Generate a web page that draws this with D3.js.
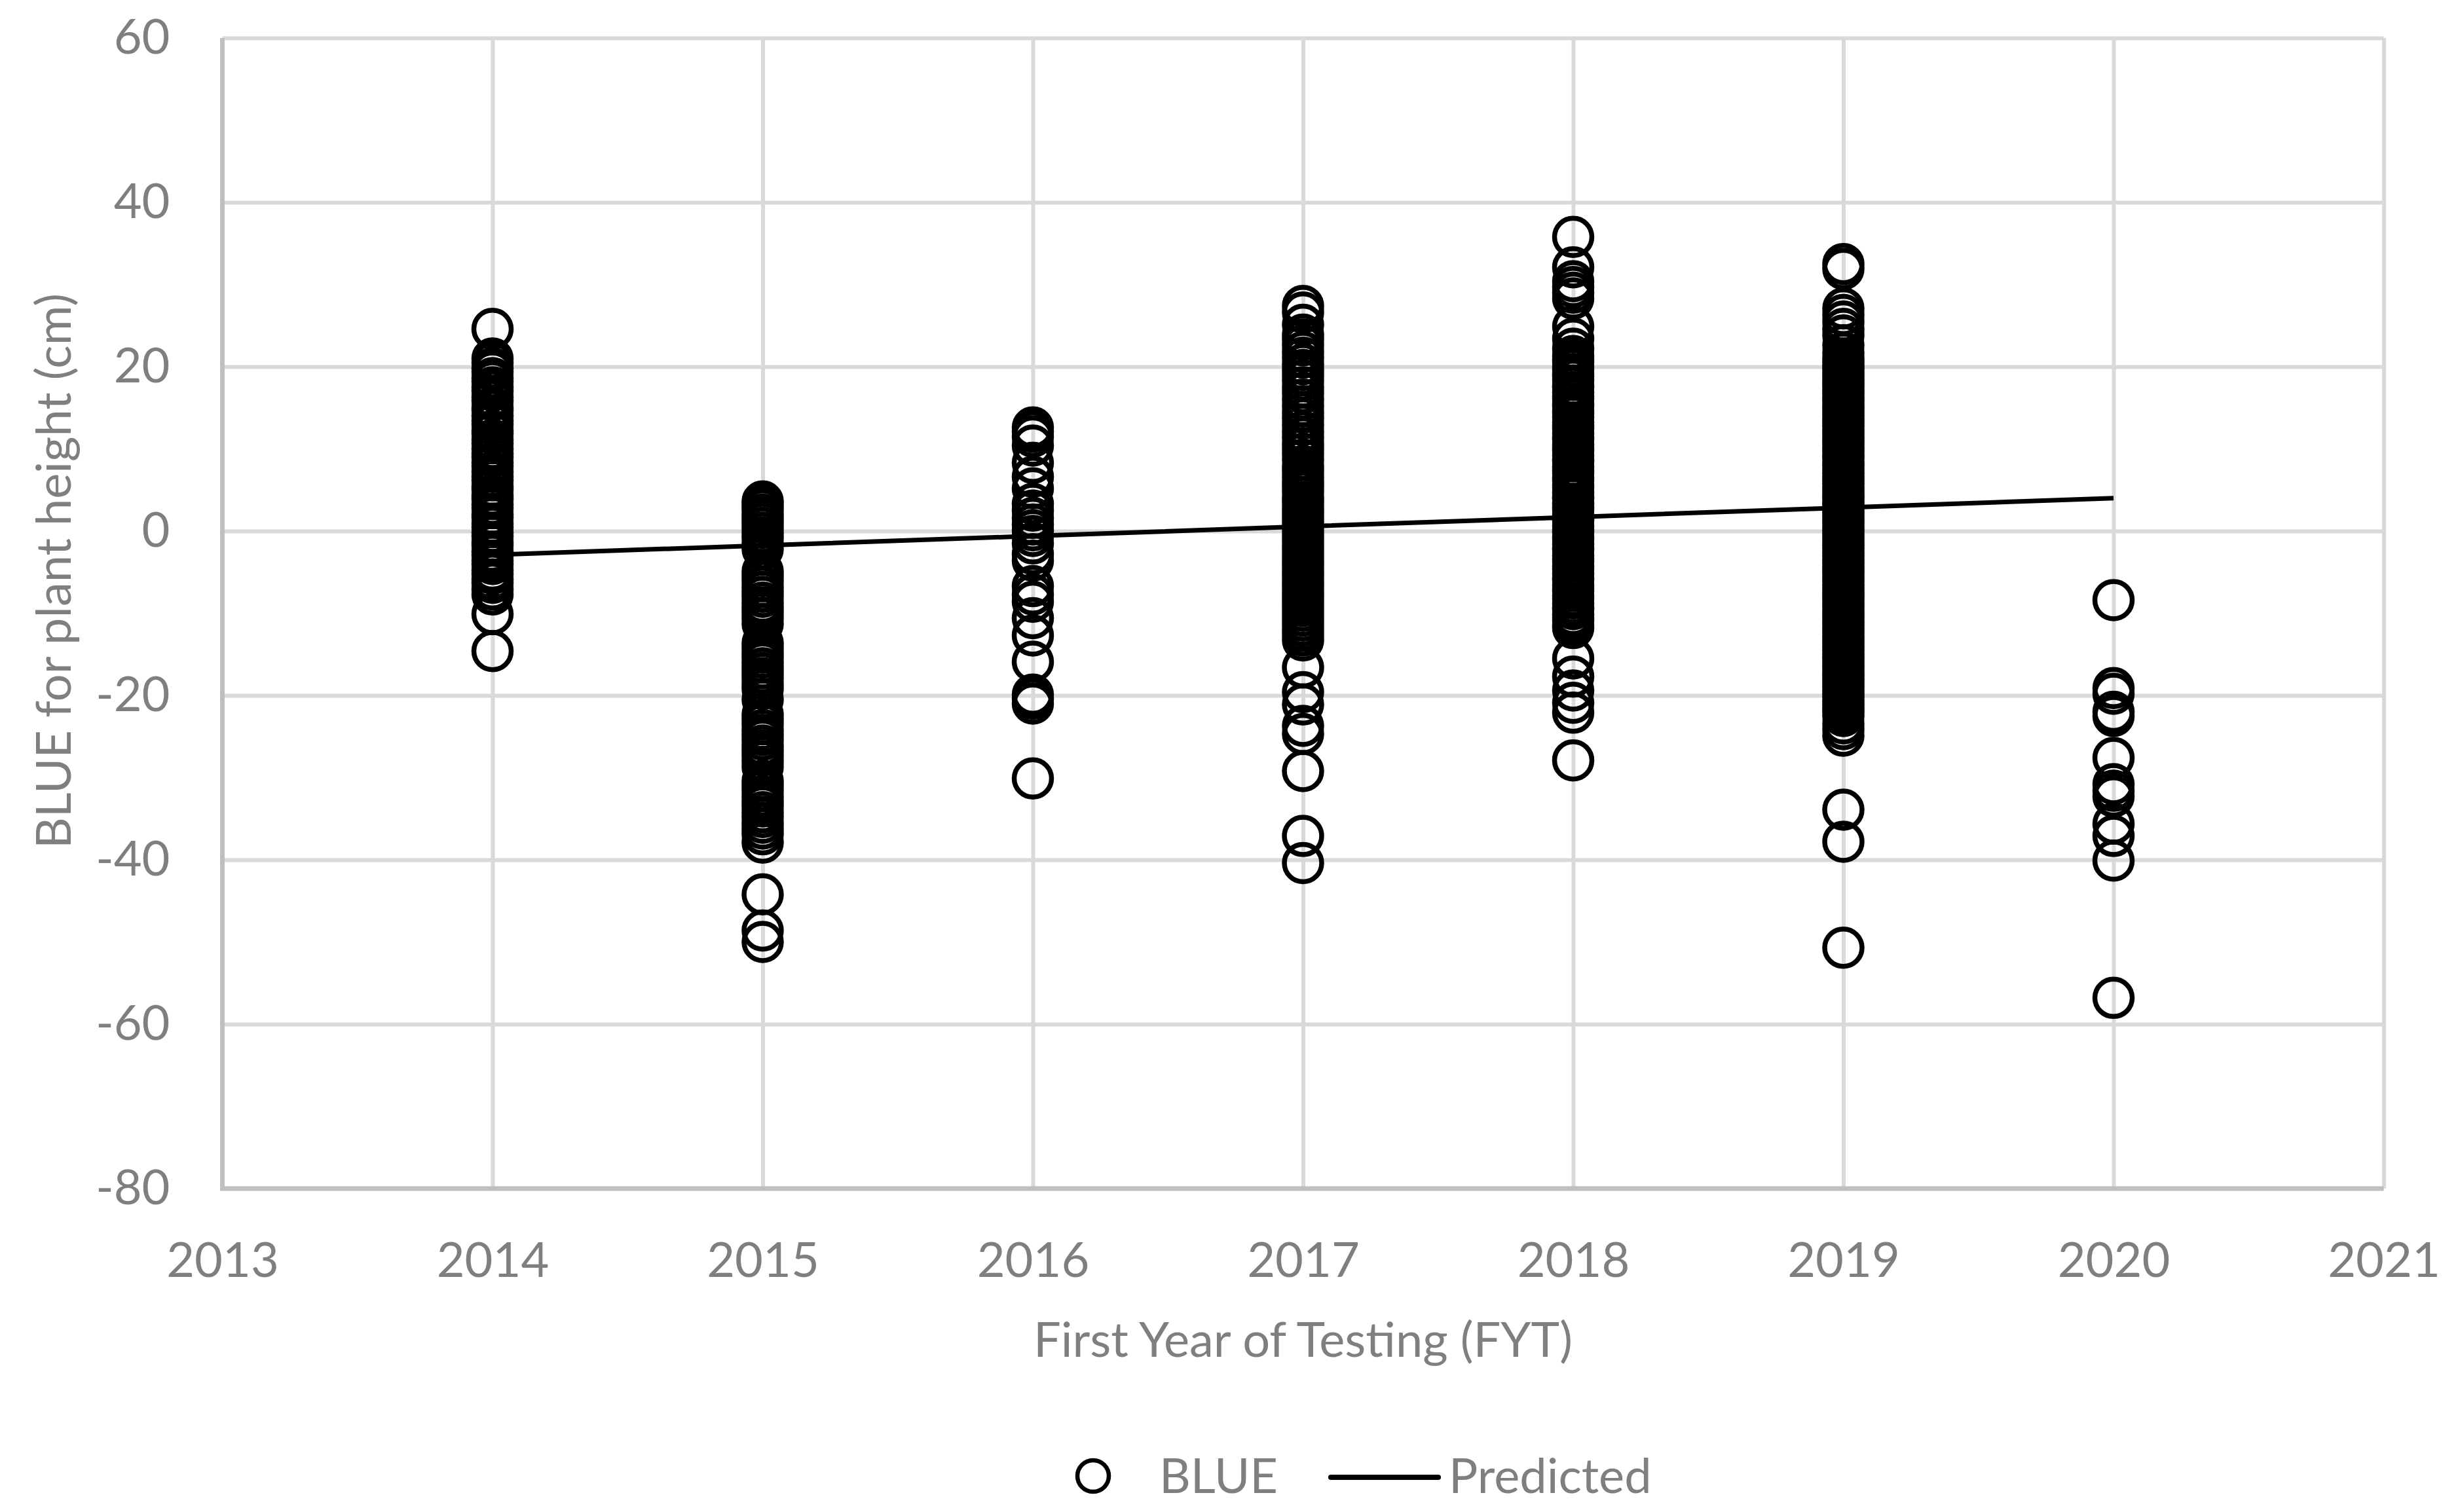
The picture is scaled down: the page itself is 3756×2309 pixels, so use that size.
<!DOCTYPE html>
<html>
<head>
<meta charset="utf-8">
<script src="https://cdn.jsdelivr.net/npm/d3@7"></script>
<style>
  html, body { margin: 0; padding: 0; background: #fff; }
  svg { display: block; }
</style>
</head>
<body>
<svg id="chart"></svg>
<script>
// ---- data ----
const xTicks = [2013, 2014, 2015, 2016, 2017, 2018, 2019, 2020, 2021];
const yTicks = [60, 40, 20, 0, -20, -40, -60, -80];

const years = [2014, 2015, 2016, 2017, 2018, 2019, 2020];

const blue2014 = [24.6, 21.0, 20.5, 19.8, 19.4, 18.6, 18.2, 17.5, 17.1, 16.3, 15.9, 15.0, 14.7, 14.0, 13.4, 13.0, 12.2, 11.9, 11.1, 10.7,
  10.0, 9.4, 9.0, 8.3, 7.9, 7.2, 6.6, 6.2, 5.4, 5.1, 4.3, 3.9, 3.2, 2.8, 2.0, 1.7, 0.9, 0.5, -0.2, -0.6, -1.4, -1.7, -2.5, -2.9,
  -3.6, -4.0, -4.8, -5.2, -5.9, -6.3, -7.1, -7.7, -10.1, -14.6];

const blue2015 = [3.6, 3.1, 2.6, 2.0, 1.5, 1.0, 0.4, -0.2, -0.8, -1.5, -2.2, -4.9, -5.5, -6.1, -6.8, -7.4, -8.0, -8.7, -9.3, -9.9,
  -10.6, -11.3, -13.6, -14.2, -14.8, -15.4, -16.0, -16.7, -17.3, -17.9, -18.6, -19.2, -20.5, -22.3, -22.9, -23.5, -24.2, -24.8,
  -25.4, -26.1, -26.7, -27.3, -28.0, -28.7, -30.4, -31.0, -31.6, -32.3, -32.9, -33.5, -34.2, -34.8, -35.5, -36.2, -36.9, -37.9,
  -44.2, -48.6, -50.0];

const blue2016 = [12.6, 12.1, 11.5, 10.4, 8.3, 6.6, 5.2, 3.3, 2.5, 1.6, 0.8, 0.1, -0.6, -1.5, -2.8, -3.6, -6.7, -7.7, -8.6,
  -10.6, -12.7, -15.9, -19.9, -20.4, -21.0, -30.1];

const blue2017 = [27.4, 26.6, 25.1, 23.9, 23.3, 22.6, 21.8, 21.1, 20.3, 19.6, 19.0, 18.3, 17.5, 16.8, 16.0, 15.2, 14.4, 13.7,
  12.9, 12.1, 11.4, 10.7, 10.1, 9.4, 8.7, 7.9, 7.3, 6.6, 6.0, 5.4, 4.8, 4.1, 3.5, 2.9, 2.3, 1.7, 1.1, 0.5, -0.1, -0.7, -1.3,
  -1.9, -2.5, -3.1, -3.7, -4.3, -4.9, -5.5, -6.1, -6.7, -7.3, -7.9, -8.5, -9.1, -9.7, -10.3, -10.9, -11.5, -12.1, -12.7, -13.3,
  -16.6, -19.6, -21.1, -23.7, -24.7, -29.2, -37.1, -40.4];

const blue2018 = [35.8, 32.1, 30.4, 29.7, 29.0, 28.3, 24.9, 23.4, 22.2,
  21.3, 20.9, 20.6, 20.0, 19.7, 19.1, 18.8, 18.4, 17.7, 17.5, 16.9, 16.4, 16.1, 15.5, 15.2, 14.6, 14.3, 13.9, 13.2, 12.8, 12.5,
  11.9, 11.4, 11.2, 10.5, 10.1, 9.8, 9.2, 8.7, 8.5, 7.8, 7.4, 7.1, 6.5, 6.2, 5.6, 5.3, 4.7, 4.2, 4.0, 3.3, 2.9, 2.6, 2.0, 1.5,
  1.3, 0.6, 0.2, -0.1, -0.7, -1.0, -1.6, -2.1, -2.3, -3.0, -3.4, -3.7, -4.3, -4.6, -5.2, -5.7, -5.9, -6.6, -7.0, -7.3, -7.9,
  -8.2, -8.8, -9.3, -9.5, -10.2, -10.6, -10.9, -11.5, -11.8,
  -15.5, -17.7, -19.4, -20.9, -22.1, -27.9];

const blue2019 = [32.5, 31.9, 27.1, 26.3, 25.5, 24.6, 23.8, 22.6, 21.7,
  21.0, 20.6, 20.1, 19.8, 19.3, 18.9, 18.4, 18.0, 17.6, 17.1, 16.7, 16.2, 15.9, 15.3, 15.0, 14.5, 14.1, 13.6, 13.2, 12.8, 12.3,
  11.9, 11.4, 11.0, 10.6, 10.1, 9.7, 9.2, 8.9, 8.3, 8.0, 7.5, 7.1, 6.6, 6.2, 5.8, 5.3, 4.9, 4.4, 4.1, 3.5, 3.2, 2.7, 2.3, 1.8,
  1.4, 1.0, 0.5, 0.1, -0.4, -0.8, -1.3, -1.7, -2.1, -2.6, -3.0, -3.5, -3.9, -4.4, -4.8, -5.2, -5.7, -6.1, -6.6, -7.0, -7.5,
  -7.9, -8.3, -8.8, -9.2, -9.7, -10.1, -10.5, -11.0, -11.4, -11.9, -12.3, -12.8, -13.2, -13.6, -14.1, -14.5, -15.0, -15.4,
  -15.8, -16.3, -16.7, -17.2, -17.6, -18.0, -18.5, -18.9, -19.4, -19.8, -20.2, -20.7, -21.1, -21.6, -22.0, -22.5,
  -23.4, -24.1, -24.9, -33.9, -37.8, -50.7];

const blue2020 = [-8.4, -19.1, -19.8, -22.0, -22.5, -27.6, -30.8, -31.6, -32.3, -35.6, -37.1, -40.1, -56.8];

const blueByYear = [blue2014, blue2015, blue2016, blue2017, blue2018, blue2019, blue2020];

// fitted trend, one value per year
const predicted = [-2.9, -1.75, -0.6, 0.55, 1.7, 2.85, 4.0];

// ---- layout ----
const width = 3756, height = 2309;
const margin = { left: 339.5, right: 116.5, top: 58, bottom: 494 };
const plotW = width - margin.left - margin.right;
const plotH = height - margin.top - margin.bottom;

const FONT = 'Lato, "Open Sans", sans-serif';
const TEXT_COLOR = '#7f7f7f';
const GRID_COLOR = '#d9d9d9';
const AXIS_COLOR = '#bfbfbf';

const svg = d3.select('#chart')
  .attr('width', width)
  .attr('height', height)
  .style('font-family', FONT);

const x = d3.scaleLinear().domain([2013, 2021]).range([margin.left, margin.left + plotW]);
const y = d3.scaleLinear().domain([-80, 60]).range([margin.top + plotH, margin.top]);

// plain hyphen for negatives, like the original
const fmt = d => String(d);

// gridlines + tick labels via axes
const yAxis = svg.append('g')
  .attr('transform', `translate(${margin.left},0)`)
  .call(d3.axisLeft(y).tickValues(yTicks).tickSize(-plotW).tickPadding(80).tickFormat(fmt));
yAxis.select('.domain').remove();
yAxis.selectAll('line').attr('stroke', GRID_COLOR).attr('stroke-width', 6);
yAxis.selectAll('text').attr('fill', TEXT_COLOR).style('font-size', '74px').style('font-family', FONT);

const xAxis = svg.append('g')
  .attr('transform', `translate(0,${margin.top + plotH})`)
  .call(d3.axisBottom(x).tickValues(xTicks).tickSize(-plotH).tickPadding(82).tickFormat(fmt));
xAxis.select('.domain').remove();
xAxis.selectAll('line').attr('stroke', GRID_COLOR).attr('stroke-width', 6);
xAxis.selectAll('text').attr('fill', TEXT_COLOR).style('font-size', '74px').style('font-family', FONT);

// axis lines (drawn over the gridlines)
svg.append('line')
  .attr('x1', margin.left).attr('x2', margin.left)
  .attr('y1', margin.top).attr('y2', margin.top + plotH)
  .attr('stroke', AXIS_COLOR).attr('stroke-width', 7);
svg.append('line')
  .attr('x1', margin.left - 3.5).attr('x2', margin.left + plotW)
  .attr('y1', margin.top + plotH).attr('y2', margin.top + plotH)
  .attr('stroke', AXIS_COLOR).attr('stroke-width', 7);

// scatter points
const points = [];
years.forEach((yr, i) => {
  blueByYear[i].forEach(v => points.push({ year: yr, value: v }));
});

svg.append('g').attr('class', 'points')
  .selectAll('circle')
  .data(points)
  .enter()
  .append('circle')
  .attr('cx', d => x(d.year))
  .attr('cy', d => y(d.value))
  .attr('r', 28.5)
  .attr('fill', 'none')
  .attr('stroke', '#000')
  .attr('stroke-width', 7.5);

// predicted line
svg.append('path')
  .datum(years.map((yr, i) => [yr, predicted[i]]))
  .attr('fill', 'none')
  .attr('stroke', '#000')
  .attr('stroke-width', 7)
  .attr('d', d3.line().x(d => x(d[0])).y(d => y(d[1])));

// axis titles
svg.append('text')
  .attr('x', margin.left + plotW / 2)
  .attr('y', 2072)
  .attr('text-anchor', 'middle')
  .attr('fill', TEXT_COLOR)
  .style('font-size', '74px')
  .text('First Year of Testing (FYT)');

svg.append('text')
  .attr('transform', 'translate(108,872) rotate(-90)')
  .attr('text-anchor', 'middle')
  .attr('fill', TEXT_COLOR)
  .style('font-size', '74px')
  .text('BLUE for plant height (cm)');

// legend
const legend = svg.append('g').attr('class', 'legend');
legend.append('circle')
  .attr('cx', 1669).attr('cy', 2254).attr('r', 24)
  .attr('fill', 'none').attr('stroke', '#000').attr('stroke-width', 6.5);
legend.append('text')
  .attr('x', 1770).attr('y', 2280)
  .attr('fill', TEXT_COLOR).style('font-size', '74px')
  .text('BLUE');
legend.append('line')
  .attr('x1', 2032).attr('x2', 2196)
  .attr('y1', 2256).attr('y2', 2256)
  .attr('stroke', '#000').attr('stroke-width', 8).attr('stroke-linecap', 'round');
legend.append('text')
  .attr('x', 2212).attr('y', 2280)
  .attr('fill', TEXT_COLOR).style('font-size', '74px')
  .text('Predicted');
</script>
</body>
</html>
